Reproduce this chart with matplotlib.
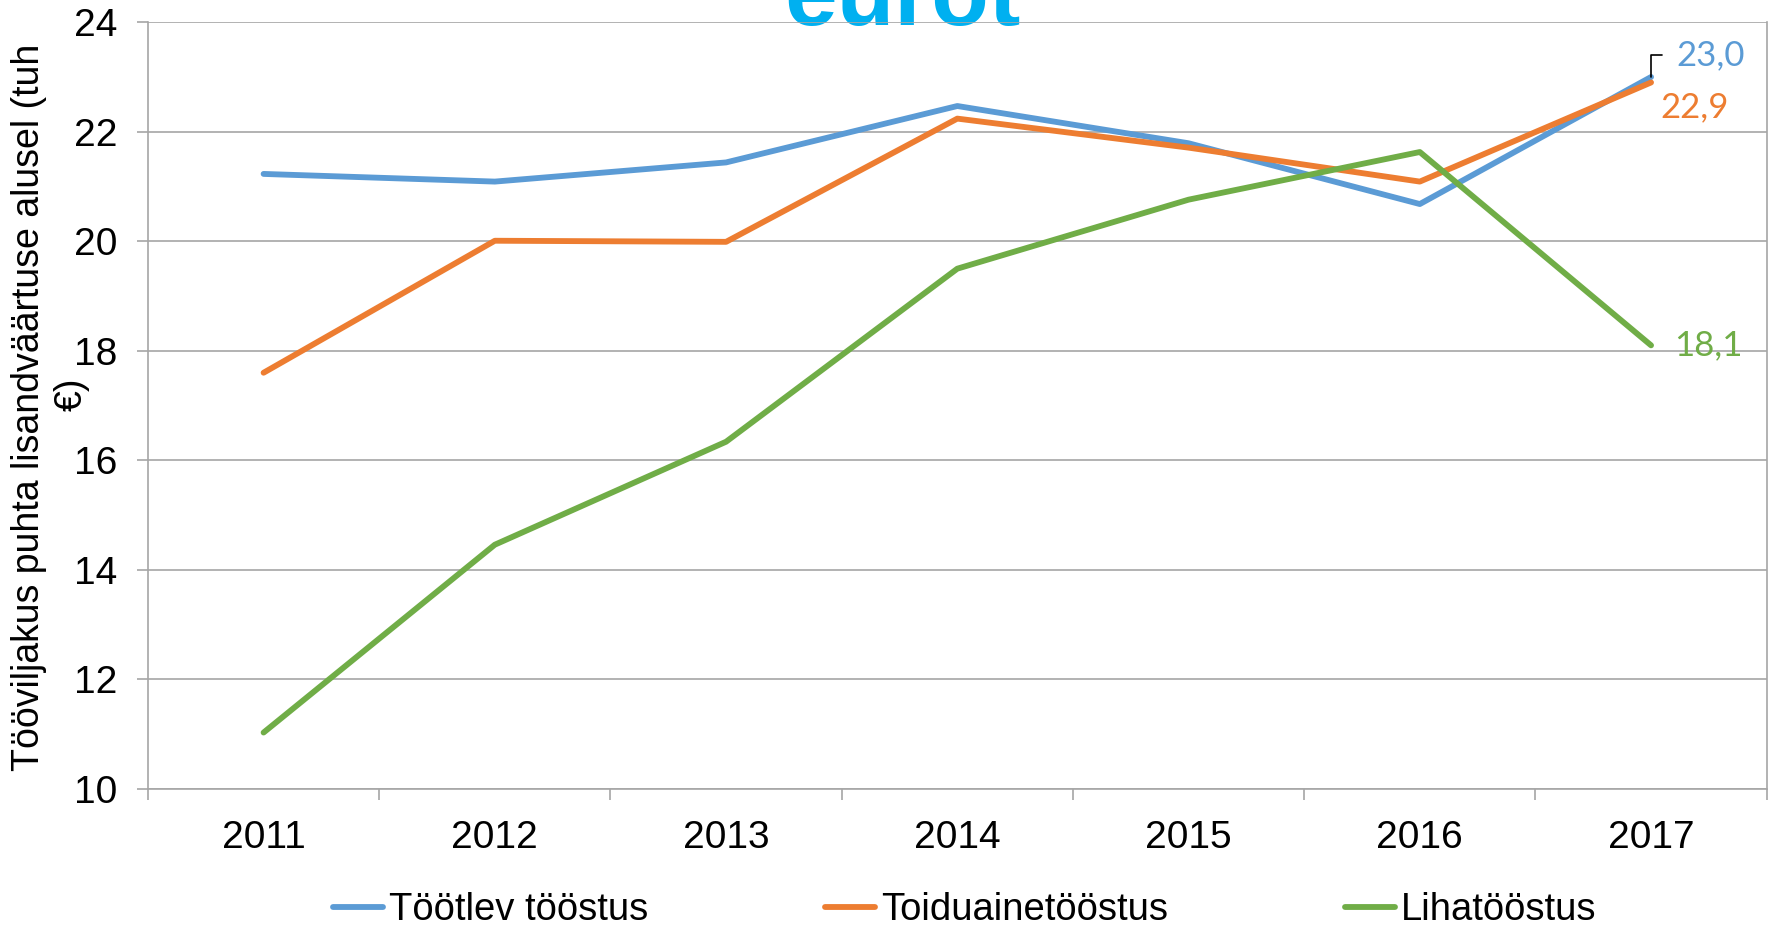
import numpy as np
import matplotlib
matplotlib.use("Agg")
import matplotlib.pyplot as plt
from matplotlib.ticker import FixedLocator

plt.rcParams['font.family'] = ['Liberation Sans', 'DejaVu Sans']

years = ['2011', '2012', '2013', '2014', '2015', '2016', '2017']
tootlev = [21.23, 21.09, 21.44, 22.47, 21.79, 20.68, 23.0]
toiduaine = [17.60, 20.01, 19.99, 22.24, 21.71, 21.09, 22.9]
liha = [11.03, 14.46, 16.34, 19.50, 20.76, 21.63, 18.1]
series_names = ['Töötlev tööstus', 'Toiduainetööstus', 'Lihatööstus']
end_labels = ['23,0', '22,9', '18,1']

colors = ['#5B9BD5', '#ED7D31', '#70AD47']
grid_col = '#A6A6A6'

fig = plt.figure(figsize=(17.72, 9.26), dpi=100)
ax = fig.add_axes([0.0835, 0.148, 0.9135, 0.828])
ax.set_facecolor('none')

x = np.arange(len(years))
lines = []
for vals, col, name in zip([tootlev, toiduaine, liha], colors, series_names):
    ln, = ax.plot(x, vals, color=col, lw=4.2, solid_capstyle='round', label=name, zorder=3)
    lines.append(ln)

ax.set_xlim(-0.5, len(years) - 0.5)
ax.set_ylim(10, 24)
ax.set_yticks(np.arange(10, 25, 2))
ax.set_xticks(x)
ax.set_xticklabels(years)
ax.xaxis.set_minor_locator(FixedLocator(np.arange(-0.5, len(years), 1)))
ax.tick_params(axis='x', which='major', length=0, pad=22, labelsize=28)
ax.tick_params(axis='x', which='minor', length=8, color=grid_col, width=1.2)
ax.tick_params(axis='y', length=8, color=grid_col, width=1.2, pad=14, labelsize=28)
ax.yaxis.grid(True, color=grid_col, lw=1.2)
ax.set_axisbelow(True)
for side in ['left', 'bottom', 'right']:
    ax.spines[side].set_color(grid_col)
    ax.spines[side].set_linewidth(1.2)
ax.spines['top'].set_visible(False)

# data labels at the last point
last = len(years) - 1
lab_font = ['Lato', 'DejaVu Sans']
ax.annotate(end_labels[0], xy=(last, tootlev[-1]), xytext=(25, 22),
            textcoords='offset pixels', color=colors[0], fontsize=25,
            family=lab_font, va='center', ha='left',
            arrowprops=dict(arrowstyle='-', color='black', lw=1.2,
                            connectionstyle='angle,angleA=0,angleB=90,rad=0',
                            shrinkA=8, shrinkB=0))
ax.annotate(end_labels[1], xy=(last, toiduaine[-1]), xytext=(9, -25),
            textcoords='offset pixels', color=colors[1], fontsize=25,
            family=lab_font, va='center', ha='left')
ax.annotate(end_labels[2], xy=(last, liha[-1]), xytext=(23, 0),
            textcoords='offset pixels', color=colors[2], fontsize=25,
            family=lab_font, va='center', ha='left')

# y label, wrapped onto two lines like the original
fig.text(0.0165, 0.560, 'Tööviljakus puhta lisandväärtuse alusel (tuh',
         rotation=90, ha='center', va='center', fontsize=27)
fig.text(0.0405, 0.574, '€)', rotation=90, ha='center', va='center', fontsize=27)

fig.text(0.509, 0.973, 'eurot', ha='center', va='baseline', fontsize=68,
         fontweight='bold', color='#00B0F0', zorder=-1)

fig.legend(handles=lines, labels=series_names, loc='center left',
           bbox_to_anchor=(0.188, 0.0173), ncol=3, frameon=False,
           fontsize=27.5, handlelength=1.3, handletextpad=0.15,
           columnspacing=4.65, borderpad=0, borderaxespad=0)

fig.savefig('out.png', dpi=100)
